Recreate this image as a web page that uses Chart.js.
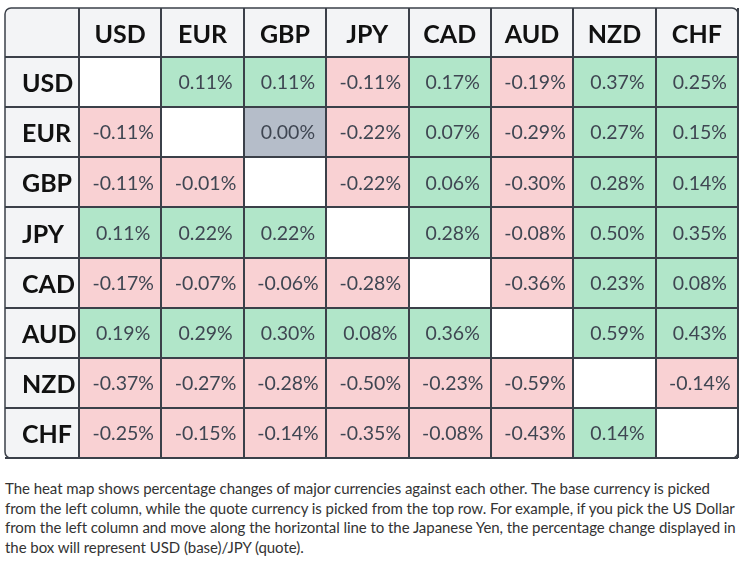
<!DOCTYPE html>
<html>
<head>
<meta charset="utf-8">
<script src="https://cdn.jsdelivr.net/npm/chart.js@4.4.1/dist/chart.umd.min.js"></script>
<style>
  body { margin: 0; background: #fff; }
  #wrap { width: 740px; height: 462px; position: relative; }
  p.note { margin: 17px 0 0 5px; font: 15px Lato, sans-serif; letter-spacing: -0.05px; line-height: 19.5px; color: #333; white-space: nowrap; }
</style>
</head>
<body>
<div id="wrap"><canvas id="heat"></canvas></div>
<p class="note">The heat map shows percentage changes of major currencies against each other. The base currency is picked<br>from the left column, while the quote currency is picked from the top row. For example, if you pick the US Dollar<br>from the left column and move along the horizontal line to the Japanese Yen, the percentage change displayed in<br>the box will represent USD (base)/JPY (quote).</p>
<script>
// base currency = row, quote currency = column
const currencies = ['USD', 'EUR', 'GBP', 'JPY', 'CAD', 'AUD', 'NZD', 'CHF'];

const usd = [null, 0.11, 0.11, -0.11, 0.17, -0.19, 0.37, 0.25];
const eur = [-0.11, null, 0.00, -0.22, 0.07, -0.29, 0.27, 0.15];
const gbp = [-0.11, -0.01, null, -0.22, 0.06, -0.30, 0.28, 0.14];
const jpy = [0.11, 0.22, 0.22, null, 0.28, -0.08, 0.50, 0.35];
const cad = [-0.17, -0.07, -0.06, -0.28, null, -0.36, 0.23, 0.08];
const aud = [0.19, 0.29, 0.30, 0.08, 0.36, null, 0.59, 0.43];
const nzd = [-0.37, -0.27, -0.28, -0.50, -0.23, -0.59, null, -0.14];
const chf = [-0.25, -0.15, -0.14, -0.35, -0.08, -0.43, 0.14, null];

const rows = [usd, eur, gbp, jpy, cad, aud, nzd, chf];

const lineCol = '#3b4049';

function cellColor(v) {
  if (v === null) return '#ffffff';
  if (v > 0) return '#b1e6c9';
  if (v < 0) return '#f9d1d3';
  return '#b5bdc9';
}

// one floating bar per cell, row r spans [r, r+1] on the hidden value axis
const datasets = rows.map((vals, r) => ({
  label: currencies[r],
  data: vals.map(v => v === null ? null : [r, r + 1]),
  values: vals,
  backgroundColor: vals.map(cellColor),
  borderWidth: 0,
  inflateAmount: 0,
  barPercentage: 1,
  categoryPercentage: 1,
  yAxisID: 'yv'
}));

const frame = {
  id: 'frame',
  beforeDraw(chart) {
    const c = chart.ctx, a = chart.chartArea;
    c.save();
    c.fillStyle = '#f3f4f6';
    c.beginPath();
    c.roundRect(5, 8, a.right - 5, a.bottom - 8, 6);
    c.fill();
    c.fillStyle = '#fff';
    c.fillRect(a.left, a.top, a.right - a.left, a.bottom - a.top);
    c.restore();
  },
  afterDatasetsDraw(chart) {
    const c = chart.ctx;
    c.save();
    c.font = '19.5px Lato';
    c.fillStyle = '#3f4652';
    c.textAlign = 'center';
    c.textBaseline = 'middle';
    chart.data.datasets.forEach((ds, i) => {
      chart.getDatasetMeta(i).data.forEach((bar, j) => {
        const v = ds.values[j];
        if (v === null) return;
        const y = (bar.y + bar.base) / 2;
        c.fillText(v.toFixed(2) + '%', bar.x + 3, y + 1);
      });
    });
    c.restore();
  },
  afterDraw(chart) {
    const c = chart.ctx, a = chart.chartArea;
    c.save();
    c.strokeStyle = lineCol;
    c.lineWidth = 1.5;
    c.beginPath();
    c.roundRect(5, 8, a.right - 5, a.bottom - 8, 6);
    c.stroke();
    c.restore();
  }
};

new Chart(document.getElementById('heat'), {
  type: 'bar',
  data: { labels: currencies, datasets: datasets },
  options: {
    maintainAspectRatio: false,
    animation: false,
    events: [],
    layout: { padding: { left: 5, top: 8, right: 2, bottom: 4 } },
    plugins: { legend: { display: false }, tooltip: { enabled: false } },
    datasets: { bar: { grouped: false } },
    scales: {
      x: {
        type: 'category',
        position: 'top',
        offset: true,
        z: 1,
        grid: { offset: true, color: lineCol, lineWidth: 2, tickLength: 49, z: 1 },
        border: { color: lineCol, width: 2, z: 1 },
        ticks: { color: '#111', font: { family: 'Lato', size: 25, weight: 'bold' }, padding: -42, maxRotation: 0 },
        afterFit(s) { s.height = 49; }
      },
      y: {
        type: 'category',
        labels: currencies,
        position: 'left',
        offset: true,
        z: 1,
        grid: { offset: true, color: lineCol, lineWidth: 2, tickLength: 74, z: 1 },
        border: { color: lineCol, width: 2, z: 1 },
        ticks: { color: '#111', font: { family: 'Lato', size: 25, weight: 'bold' }, mirror: true, padding: -57, labelOffset: 2 },
        afterFit(s) { s.width = 74; }
      },
      yv: {
        type: 'linear',
        display: false,
        reverse: true,
        min: 0,
        max: currencies.length
      }
    }
  },
  plugins: [frame]
});
</script>
</body>
</html>
